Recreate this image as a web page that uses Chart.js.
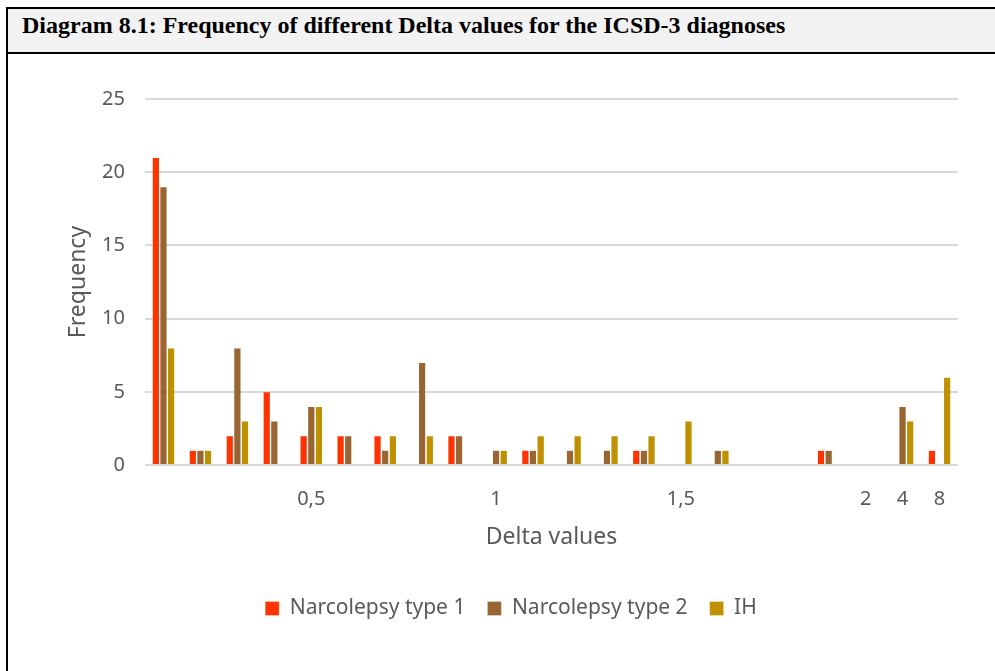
<!DOCTYPE html>
<html>
<head>
<meta charset="utf-8">
<script src="https://cdn.jsdelivr.net/npm/chart.js@4/dist/chart.umd.min.js"></script>
<style>
  body { margin: 0; background: #fff; overflow: hidden; }
  #frame {
    position: absolute; left: 6px; top: 7px; width: 1000px; height: 700px;
    border-left: 2px solid #000; border-top: 2px solid #000;
  }
  #head {
    height: 39px; padding-top: 4px; background: #f2f2f2; border-bottom: 2px solid #000;
    font-family: "Liberation Serif", "Times New Roman", serif; font-weight: bold;
    font-size: 24px; line-height: 24px; padding-left: 14px; box-sizing: content-box;
  }
  canvas { display: block; }
</style>
</head>
<body>
<div id="frame">
  <div id="head">Diagram 8.1: Frequency of different Delta values for the ICSD-3 diagnoses</div>
  <canvas id="chart" width="987" height="617"></canvas>
</div>
<script>
// x categories (only some are labelled on the axis)
const deltaLabels = ["", "", "", "", "0,5", "", "", "", "", "1", "", "", "", "", "1,5", "", "", "", "", "2", "4", "8"];

// frequencies per delta value
const nt1 = [21, 1, 2, 5, 2, 2, 2, 0, 2, 0, 1, 0, 0, 1, 0, 0, 0, 0, 1, 0, 0, 1];
const nt2 = [19, 1, 8, 3, 4, 2, 1, 7, 2, 1, 1, 1, 1, 1, 0, 1, 0, 0, 1, 0, 4, 0];
const ih  = [8, 1, 3, 0, 4, 0, 2, 2, 0, 1, 2, 2, 2, 2, 3, 1, 0, 0, 0, 0, 3, 6];

const seriesNames = ["Narcolepsy type 1", "Narcolepsy type 2", "IH"];
const seriesColors = ["#ff3300", "#996633", "#bf9000"];

const textColor = "#595959";
const fontFamily = "'Noto Sans', sans-serif";

const ctx = document.getElementById("chart");

const myChart = new Chart(ctx, {
  type: "bar",
  data: {
    labels: deltaLabels,
    datasets: [nt1, nt2, ih].map((vals, i) => ({
      label: seriesNames[i],
      data: vals,
      backgroundColor: seriesColors[i],
      borderColor: "rgba(255,255,255,0.6)",
      borderWidth: 0.5,
      categoryPercentage: 0.62,
      barPercentage: 0.95,
    })),
  },
  options: {
    responsive: false,
    animation: false,
    devicePixelRatio: 1,
    layout: { padding: { left: 56, right: 37, top: 45, bottom: 42 } },
    plugins: {
      tooltip: { enabled: false },
      legend: {
        position: "bottom",
        labels: {
          color: textColor,
          font: { family: fontFamily, size: 21 },
          boxWidth: 14,
          boxHeight: 14,
          padding: 22,
        },
      },
    },
    scales: {
      x: {
        afterFit: (scale) => { scale.height = 111; },
        grid: { display: false },
        border: { display: false },
        ticks: {
          color: textColor,
          font: { family: fontFamily, size: 20 },
          padding: 14,
          autoSkip: false,
          maxRotation: 0,
        },
        title: {
          display: true,
          text: "Delta values",
          color: textColor,
          font: { family: fontFamily, size: 23 },
          padding: { top: 0, bottom: 25 },
        },
      },
      y: {
        min: 0,
        max: 25,
        afterFit: (scale) => { scale.width = 81; },
        grid: { color: "#d9d9d9", lineWidth: 2, drawTicks: false },
        border: { display: false },
        ticks: {
          stepSize: 5,
          color: textColor,
          font: { family: fontFamily, size: 20 },
          padding: 20,
        },
        title: {
          display: true,
          text: "Frequency",
          color: textColor,
          font: { family: fontFamily, size: 23 },
          padding: { top: 1, bottom: 0 },
        },
      },
    },
  },
});
</script>
</body>
</html>
